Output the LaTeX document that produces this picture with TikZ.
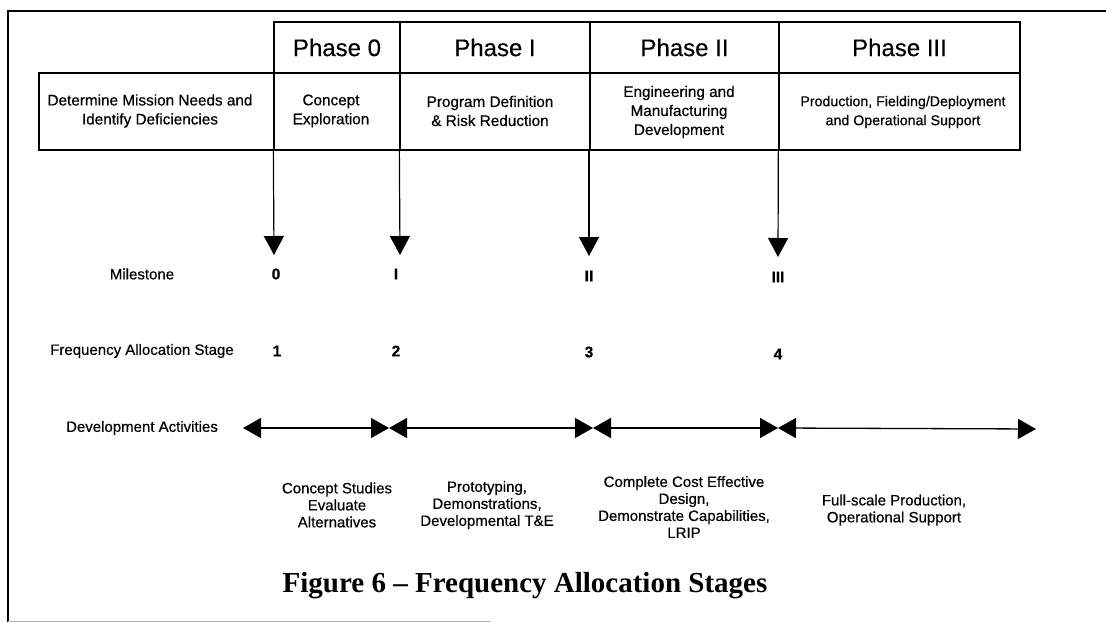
\documentclass[tikz,border=0pt]{standalone}
\usepackage{fontspec}
\setmainfont{Liberation Sans}[RawFeature={embolden=0.5}]
\newfontfamily\headfont{Liberation Sans}[RawFeature={embolden=0.3}]
\newfontfamily\capfont{Liberation Serif}
\usetikzlibrary{arrows.meta}

\begin{document}
\begin{tikzpicture}[x=1pt,y=-1pt,
  cell/.style={draw, line width=1.3pt, inner sep=0pt},
  phasecell/.style={cell, font=\headfont\fontsize{24}{28}\selectfont},
  desctext/.style={align=center, inner sep=0pt, font=\fontsize{15.3}{19}\selectfont},
  rowlabel/.style={inner sep=0pt, font=\fontsize{15}{17}\selectfont},
  num/.style={inner sep=0pt, font=\bfseries\fontsize{15.5}{17}\selectfont},
  activity/.style={align=center, inner sep=0pt, font=\fontsize{15}{17}\selectfont},
  milestonearrow/.style={line width=1.2pt, -{Triangle[length=19pt,width=20pt]}},
  devarrow/.style={line width=1.3pt, {Triangle[length=18pt,width=20pt]}-{Triangle[length=18pt,width=20pt]}},
]
\useasboundingbox (0,0) rectangle (1106,623);
\fill[white] (0,0) rectangle (1106,623);

% page frame
\draw[line width=1.8pt] (8,622) -- (8,11) -- (1106,11);
\draw[gray!60, line width=0.8pt] (8,621) -- (490,621);

% phase header row
\node[phasecell, minimum width=126, minimum height=51] (p0) at (337,47.5) {Phase 0};
\node[phasecell, minimum width=190, minimum height=51] (p1) at (495,47.5) {Phase I};
\node[phasecell, minimum width=189, minimum height=51] (p2) at (684.5,47.5) {Phase II};
\node[phasecell, minimum width=241, minimum height=51] (p3) at (899.5,47.5) {Phase III};

% description row
\node[cell, minimum width=235, minimum height=77] (d)  at (156.5,111.5) {};
\node[cell, minimum width=126, minimum height=77] (c0) at (337,111.5) {};
\node[cell, minimum width=190, minimum height=77] (c1) at (495,111.5) {};
\node[cell, minimum width=189, minimum height=77] (c2) at (684.5,111.5) {};
\node[cell, minimum width=241, minimum height=77] (c3) at (899.5,111.5) {};

\node[desctext] (td)  at (150,111) {Determine Mission Needs and\\Identify Deficiencies};
\node[desctext] (tc0) at (331,111) {Concept\\Exploration};
\node[desctext] (tc1) at (490,111) {Program Definition\\\& Risk Reduction};
\node[desctext] (tc2) at (679,112) {Engineering and\\Manufacturing\\Development};
\node[desctext, font=\fontsize{14.2}{19}\selectfont] (tc3) at (903,112) {Production, Fielding/Deployment\\and Operational Support};

% row labels
\node[rowlabel] (lm) at (142,274) {Milestone};
\node[rowlabel] (lf) at (142,351) {Frequency Allocation Stage};
\node[rowlabel] (la) at (142,428) {Development Activities};

% milestones
\node[num] (m0) at (276,274) {0};
\node[num] (m1) at (396,274) {I};
\node[num] (m2) at (589,276) {II};
\node[num] (m3) at (778,277) {III};

% frequency allocation stages
\node[num] (f1) at (277,351) {1};
\node[num] (f2) at (396,351) {2};
\node[num] (f3) at (589,352) {3};
\node[num] (f4) at (778,354) {4};

% milestone arrows
\coordinate (t0) at (274,255);
\coordinate (t1) at (400,255);
\coordinate (t2) at (589,256);
\coordinate (t3) at (778,257);
\draw[milestonearrow] (c0.south west) -- (t0);
\draw[milestonearrow] (c1.south west) -- (t1);
\draw[milestonearrow] (589,150) -- (t2);
\draw[milestonearrow] (c3.south west) -- (t3);

% development activity timeline
\coordinate (a0) at (243,428);
\coordinate (a1) at (389,428);
\coordinate (a2) at (593,428);
\coordinate (a3) at (778,428);
\coordinate (a4) at (1036,429);
\draw[devarrow] (a0) -- (a1);
\draw[devarrow] (a1) -- (a2);
\draw[devarrow] (a2) -- (a3);
\draw[devarrow] (a3) -- (a4);

% activities
\node[activity] (s0) at (337,505) {Concept Studies\\Evaluate\\Alternatives};
\node[activity] (s1) at (487,505) {Prototyping,\\Demonstrations,\\Developmental T\&E};
\node[activity] (s2) at (684,507) {Complete Cost Effective\\Design,\\Demonstrate Capabilities,\\LRIP};
\node[activity] (s3) at (894,510) {Full-scale Production,\\Operational Support};

% caption
\node[inner sep=0pt, font=\capfont\bfseries\fontsize{29}{34}\selectfont] (cap) at (525,586) {Figure 6 – Frequency Allocation Stages};
\end{tikzpicture}
\end{document}
